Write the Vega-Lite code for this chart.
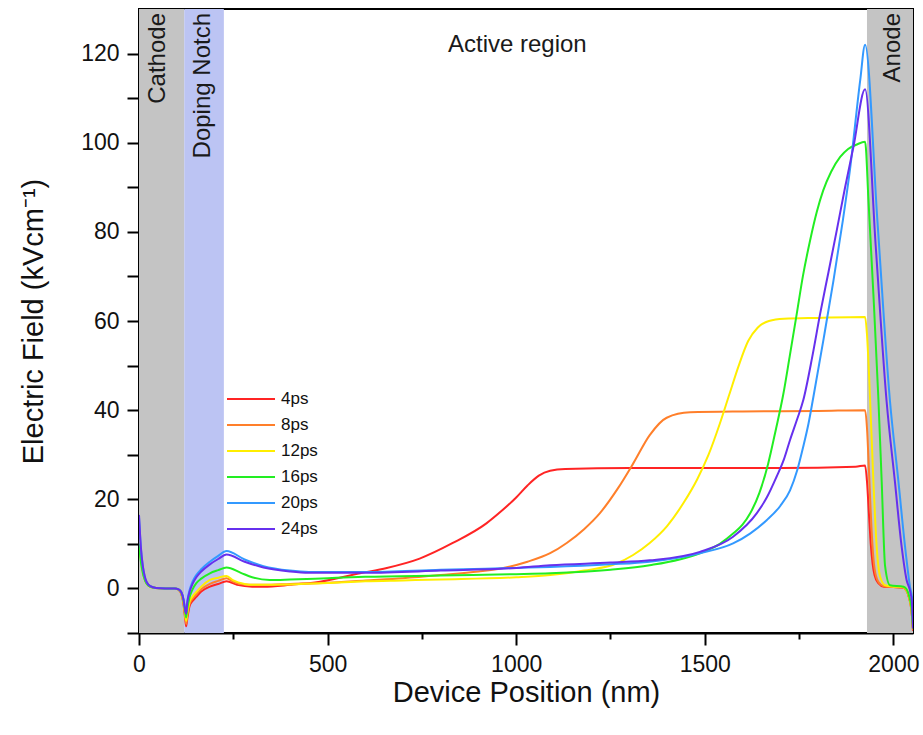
{
  "$schema": "https://vega.github.io/schema/vega-lite/v6.json",
  "width": 774,
  "height": 624,
  "autosize": {"type": "none"},
  "padding": {"left": 139, "top": 9, "right": 10, "bottom": 102},
  "background": "white",
  "config": {
    "font": "Liberation Sans",
    "view": {"stroke": "black", "strokeWidth": 2},
    "axis": {
      "domainColor": "black",
      "domainWidth": 2,
      "tickColor": "black",
      "tickWidth": 2,
      "labelColor": "#111",
      "titleColor": "#111",
      "labelFontSize": 23,
      "titleFontSize": 29,
      "titleFontWeight": "normal",
      "grid": false,
      "labelOverlap": false,
      "labelFlush": false
    }
  },
  "resolve": {"axis": {"x": "independent"}},
  "datasets": {
    "regions": [
      {"region": "Cathode", "start": 0, "end": 120, "fill": "#c4c4c4"},
      {"region": "Doping Notch", "start": 120, "end": 225, "fill": "#bcc4f3"},
      {"region": "Anode", "start": 1930, "end": 2052, "fill": "#c4c4c4"}
    ],
    "sideLabels": [
      {"text": "Cathode", "x": 50, "y": 130},
      {"text": "Doping Notch", "x": 170, "y": 130},
      {"text": "Anode", "x": 2000, "y": 130}
    ],
    "topLabels": [
      {"text": "Active region", "x": 1003, "y": 122}
    ],
    "minorTicks": [
      {"x": 250}, {"x": 750}, {"x": 1250}, {"x": 1750}
    ],
    "field": [
      {"t": "4ps", "x": 0, "y": 12}, {"t": "4ps", "x": 5, "y": 7}, {"t": "4ps", "x": 10, "y": 4}, {"t": "4ps", "x": 15, "y": 2.2}, {"t": "4ps", "x": 20, "y": 1.2}, {"t": "4ps", "x": 30, "y": 0.4}, {"t": "4ps", "x": 45, "y": 0.1}, {"t": "4ps", "x": 70, "y": 0}, {"t": "4ps", "x": 95, "y": 0}, {"t": "4ps", "x": 105, "y": -0.3}, {"t": "4ps", "x": 112, "y": -1.2}, {"t": "4ps", "x": 118, "y": -3.5}, {"t": "4ps", "x": 122, "y": -6.5}, {"t": "4ps", "x": 125, "y": -8.5},
      {"t": "4ps", "x": 128, "y": -6.8}, {"t": "4ps", "x": 134, "y": -4}, {"t": "4ps", "x": 142, "y": -2.8}, {"t": "4ps", "x": 152, "y": -1.9}, {"t": "4ps", "x": 165, "y": -0.7}, {"t": "4ps", "x": 188, "y": 0.4}, {"t": "4ps", "x": 210, "y": 1.0}, {"t": "4ps", "x": 232, "y": 1.6},
      {"t": "4ps", "x": 260, "y": 0.8}, {"t": "4ps", "x": 300, "y": 0.4}, {"t": "4ps", "x": 330, "y": 0.4}, {"t": "4ps", "x": 400, "y": 0.8}, {"t": "4ps", "x": 480, "y": 1.5}, {"t": "4ps", "x": 586, "y": 3.4}, {"t": "4ps", "x": 657, "y": 4.6}, {"t": "4ps", "x": 744, "y": 6.7}, {"t": "4ps", "x": 832, "y": 10.2}, {"t": "4ps", "x": 921, "y": 14.6}, {"t": "4ps", "x": 960, "y": 17.3}, {"t": "4ps", "x": 1000, "y": 20.4}, {"t": "4ps", "x": 1030, "y": 23.1}, {"t": "4ps", "x": 1060, "y": 25.3}, {"t": "4ps", "x": 1090, "y": 26.4}, {"t": "4ps", "x": 1130, "y": 26.8}, {"t": "4ps", "x": 1300, "y": 27}, {"t": "4ps", "x": 1500, "y": 27}, {"t": "4ps", "x": 1700, "y": 27}, {"t": "4ps", "x": 1900, "y": 27.3}, {"t": "4ps", "x": 1925, "y": 27.6},
      {"t": "4ps", "x": 1930, "y": 24}, {"t": "4ps", "x": 1935, "y": 17}, {"t": "4ps", "x": 1940, "y": 10}, {"t": "4ps", "x": 1945, "y": 5.5}, {"t": "4ps", "x": 1950, "y": 3}, {"t": "4ps", "x": 1960, "y": 1.2}, {"t": "4ps", "x": 1975, "y": 0.4}, {"t": "4ps", "x": 2000, "y": 0.3}, {"t": "4ps", "x": 2025, "y": 0.2}, {"t": "4ps", "x": 2035, "y": -0.5}, {"t": "4ps", "x": 2042, "y": -2.2}, {"t": "4ps", "x": 2048, "y": -5}, {"t": "4ps", "x": 2052, "y": -9.5},

      {"t": "8ps", "x": 0, "y": 12.5}, {"t": "8ps", "x": 5, "y": 7.2}, {"t": "8ps", "x": 10, "y": 4.1}, {"t": "8ps", "x": 15, "y": 2.3}, {"t": "8ps", "x": 20, "y": 1.2}, {"t": "8ps", "x": 30, "y": 0.4}, {"t": "8ps", "x": 45, "y": 0.1}, {"t": "8ps", "x": 70, "y": 0}, {"t": "8ps", "x": 95, "y": 0}, {"t": "8ps", "x": 105, "y": -0.3}, {"t": "8ps", "x": 112, "y": -1.1}, {"t": "8ps", "x": 118, "y": -3.2}, {"t": "8ps", "x": 122, "y": -6}, {"t": "8ps", "x": 125, "y": -8},
      {"t": "8ps", "x": 128, "y": -6.2}, {"t": "8ps", "x": 134, "y": -3.5}, {"t": "8ps", "x": 142, "y": -2.3}, {"t": "8ps", "x": 152, "y": -1.3}, {"t": "8ps", "x": 165, "y": -0.2}, {"t": "8ps", "x": 188, "y": 1.0}, {"t": "8ps", "x": 210, "y": 1.7}, {"t": "8ps", "x": 232, "y": 2.3},
      {"t": "8ps", "x": 250, "y": 1.5}, {"t": "8ps", "x": 280, "y": 0.9}, {"t": "8ps", "x": 330, "y": 0.8}, {"t": "8ps", "x": 400, "y": 1.0}, {"t": "8ps", "x": 500, "y": 1.3}, {"t": "8ps", "x": 600, "y": 1.8}, {"t": "8ps", "x": 700, "y": 2.3}, {"t": "8ps", "x": 800, "y": 3.0}, {"t": "8ps", "x": 900, "y": 3.8}, {"t": "8ps", "x": 966, "y": 4.6}, {"t": "8ps", "x": 1030, "y": 6}, {"t": "8ps", "x": 1090, "y": 7.9}, {"t": "8ps", "x": 1134, "y": 10.2}, {"t": "8ps", "x": 1180, "y": 13.3}, {"t": "8ps", "x": 1222, "y": 16.9}, {"t": "8ps", "x": 1270, "y": 22.5}, {"t": "8ps", "x": 1310, "y": 28}, {"t": "8ps", "x": 1354, "y": 34.4}, {"t": "8ps", "x": 1399, "y": 38.3}, {"t": "8ps", "x": 1461, "y": 39.5}, {"t": "8ps", "x": 1600, "y": 39.7}, {"t": "8ps", "x": 1800, "y": 39.8}, {"t": "8ps", "x": 1925, "y": 40},
      {"t": "8ps", "x": 1930, "y": 36}, {"t": "8ps", "x": 1935, "y": 27}, {"t": "8ps", "x": 1940, "y": 17}, {"t": "8ps", "x": 1945, "y": 9}, {"t": "8ps", "x": 1950, "y": 4.5}, {"t": "8ps", "x": 1960, "y": 1.5}, {"t": "8ps", "x": 1975, "y": 0.5}, {"t": "8ps", "x": 2000, "y": 0.3}, {"t": "8ps", "x": 2025, "y": 0.2}, {"t": "8ps", "x": 2035, "y": -0.5}, {"t": "8ps", "x": 2042, "y": -2.2}, {"t": "8ps", "x": 2048, "y": -5}, {"t": "8ps", "x": 2052, "y": -9.3},

      {"t": "12ps", "x": 0, "y": 11}, {"t": "12ps", "x": 5, "y": 6.5}, {"t": "12ps", "x": 10, "y": 3.8}, {"t": "12ps", "x": 15, "y": 2.1}, {"t": "12ps", "x": 20, "y": 1.1}, {"t": "12ps", "x": 30, "y": 0.4}, {"t": "12ps", "x": 45, "y": 0.1}, {"t": "12ps", "x": 70, "y": 0}, {"t": "12ps", "x": 95, "y": 0}, {"t": "12ps", "x": 105, "y": -0.3}, {"t": "12ps", "x": 112, "y": -1}, {"t": "12ps", "x": 118, "y": -3}, {"t": "12ps", "x": 122, "y": -5.5}, {"t": "12ps", "x": 125, "y": -7.3},
      {"t": "12ps", "x": 128, "y": -5.5}, {"t": "12ps", "x": 134, "y": -3}, {"t": "12ps", "x": 142, "y": -1.8}, {"t": "12ps", "x": 152, "y": -0.8}, {"t": "12ps", "x": 165, "y": 0.4}, {"t": "12ps", "x": 188, "y": 1.9}, {"t": "12ps", "x": 210, "y": 2.4}, {"t": "12ps", "x": 232, "y": 2.8},
      {"t": "12ps", "x": 250, "y": 1.8}, {"t": "12ps", "x": 280, "y": 1.0}, {"t": "12ps", "x": 302, "y": 0.8}, {"t": "12ps", "x": 400, "y": 0.9}, {"t": "12ps", "x": 500, "y": 1.2}, {"t": "12ps", "x": 600, "y": 1.6}, {"t": "12ps", "x": 700, "y": 1.8}, {"t": "12ps", "x": 800, "y": 2.0}, {"t": "12ps", "x": 1000, "y": 2.5}, {"t": "12ps", "x": 1090, "y": 3}, {"t": "12ps", "x": 1180, "y": 4}, {"t": "12ps", "x": 1266, "y": 5.6}, {"t": "12ps", "x": 1310, "y": 7.5}, {"t": "12ps", "x": 1354, "y": 10.2}, {"t": "12ps", "x": 1400, "y": 14}, {"t": "12ps", "x": 1443, "y": 19.1}, {"t": "12ps", "x": 1480, "y": 24.5}, {"t": "12ps", "x": 1510, "y": 30}, {"t": "12ps", "x": 1540, "y": 37}, {"t": "12ps", "x": 1565, "y": 43.5}, {"t": "12ps", "x": 1590, "y": 50}, {"t": "12ps", "x": 1615, "y": 55.5}, {"t": "12ps", "x": 1640, "y": 58.5}, {"t": "12ps", "x": 1670, "y": 60}, {"t": "12ps", "x": 1710, "y": 60.5}, {"t": "12ps", "x": 1800, "y": 60.7}, {"t": "12ps", "x": 1925, "y": 60.9},
      {"t": "12ps", "x": 1930, "y": 57}, {"t": "12ps", "x": 1936, "y": 47}, {"t": "12ps", "x": 1947, "y": 24}, {"t": "12ps", "x": 1956, "y": 9}, {"t": "12ps", "x": 1965, "y": 2.6}, {"t": "12ps", "x": 1978, "y": 0.7}, {"t": "12ps", "x": 2000, "y": 0.4}, {"t": "12ps", "x": 2025, "y": 0.3}, {"t": "12ps", "x": 2035, "y": -0.4}, {"t": "12ps", "x": 2042, "y": -2}, {"t": "12ps", "x": 2048, "y": -4.8}, {"t": "12ps", "x": 2052, "y": -9},

      {"t": "16ps", "x": 0, "y": 10}, {"t": "16ps", "x": 5, "y": 6}, {"t": "16ps", "x": 10, "y": 3.5}, {"t": "16ps", "x": 15, "y": 2}, {"t": "16ps", "x": 20, "y": 1.1}, {"t": "16ps", "x": 30, "y": 0.4}, {"t": "16ps", "x": 45, "y": 0.1}, {"t": "16ps", "x": 70, "y": 0}, {"t": "16ps", "x": 95, "y": 0}, {"t": "16ps", "x": 105, "y": -0.2}, {"t": "16ps", "x": 112, "y": -0.9}, {"t": "16ps", "x": 118, "y": -2.7}, {"t": "16ps", "x": 122, "y": -5}, {"t": "16ps", "x": 125, "y": -6.5},
      {"t": "16ps", "x": 128, "y": -4.5}, {"t": "16ps", "x": 134, "y": -2}, {"t": "16ps", "x": 142, "y": -0.2}, {"t": "16ps", "x": 152, "y": 1.2}, {"t": "16ps", "x": 165, "y": 2.2}, {"t": "16ps", "x": 188, "y": 3.4}, {"t": "16ps", "x": 210, "y": 4.1}, {"t": "16ps", "x": 232, "y": 4.7},
      {"t": "16ps", "x": 270, "y": 3.5}, {"t": "16ps", "x": 300, "y": 2.5}, {"t": "16ps", "x": 347, "y": 1.9}, {"t": "16ps", "x": 400, "y": 2.0}, {"t": "16ps", "x": 500, "y": 2.3}, {"t": "16ps", "x": 600, "y": 2.6}, {"t": "16ps", "x": 800, "y": 2.9}, {"t": "16ps", "x": 1000, "y": 3.2}, {"t": "16ps", "x": 1090, "y": 3.4}, {"t": "16ps", "x": 1250, "y": 4.2}, {"t": "16ps", "x": 1354, "y": 5.2}, {"t": "16ps", "x": 1487, "y": 7.9}, {"t": "16ps", "x": 1540, "y": 10}, {"t": "16ps", "x": 1575, "y": 12.3}, {"t": "16ps", "x": 1600, "y": 14.3}, {"t": "16ps", "x": 1620, "y": 16.8}, {"t": "16ps", "x": 1645, "y": 21.5}, {"t": "16ps", "x": 1668, "y": 28}, {"t": "16ps", "x": 1688, "y": 35.5}, {"t": "16ps", "x": 1708, "y": 43.5}, {"t": "16ps", "x": 1725, "y": 52}, {"t": "16ps", "x": 1744, "y": 61.7}, {"t": "16ps", "x": 1760, "y": 70}, {"t": "16ps", "x": 1779, "y": 78}, {"t": "16ps", "x": 1797, "y": 84.5}, {"t": "16ps", "x": 1814, "y": 89.3}, {"t": "16ps", "x": 1835, "y": 93.5}, {"t": "16ps", "x": 1859, "y": 96.8}, {"t": "16ps", "x": 1880, "y": 98.6}, {"t": "16ps", "x": 1903, "y": 99.6}, {"t": "16ps", "x": 1925, "y": 100.2},
      {"t": "16ps", "x": 1934, "y": 87}, {"t": "16ps", "x": 1947, "y": 66}, {"t": "16ps", "x": 1960, "y": 43}, {"t": "16ps", "x": 1969, "y": 24}, {"t": "16ps", "x": 1978, "y": 5}, {"t": "16ps", "x": 1991, "y": 0.7}, {"t": "16ps", "x": 2027, "y": 0.4}, {"t": "16ps", "x": 2035, "y": -0.2}, {"t": "16ps", "x": 2042, "y": -1.8}, {"t": "16ps", "x": 2048, "y": -4.5}, {"t": "16ps", "x": 2052, "y": -9},

      {"t": "20ps", "x": 0, "y": 16}, {"t": "20ps", "x": 5, "y": 9}, {"t": "20ps", "x": 10, "y": 5}, {"t": "20ps", "x": 15, "y": 2.7}, {"t": "20ps", "x": 20, "y": 1.4}, {"t": "20ps", "x": 30, "y": 0.5}, {"t": "20ps", "x": 45, "y": 0.1}, {"t": "20ps", "x": 70, "y": 0}, {"t": "20ps", "x": 95, "y": 0}, {"t": "20ps", "x": 105, "y": -0.2}, {"t": "20ps", "x": 112, "y": -0.8}, {"t": "20ps", "x": 118, "y": -2.4}, {"t": "20ps", "x": 122, "y": -4.5}, {"t": "20ps", "x": 125, "y": -5.5},
      {"t": "20ps", "x": 128, "y": -3}, {"t": "20ps", "x": 134, "y": -0.4}, {"t": "20ps", "x": 142, "y": 1.5}, {"t": "20ps", "x": 152, "y": 3}, {"t": "20ps", "x": 165, "y": 4.3}, {"t": "20ps", "x": 188, "y": 6}, {"t": "20ps", "x": 210, "y": 7.3}, {"t": "20ps", "x": 232, "y": 8.4},
      {"t": "20ps", "x": 280, "y": 6.5}, {"t": "20ps", "x": 330, "y": 5}, {"t": "20ps", "x": 400, "y": 4}, {"t": "20ps", "x": 450, "y": 3.7}, {"t": "20ps", "x": 600, "y": 3.7}, {"t": "20ps", "x": 800, "y": 4.2}, {"t": "20ps", "x": 1000, "y": 4.6}, {"t": "20ps", "x": 1090, "y": 4.8}, {"t": "20ps", "x": 1250, "y": 5.4}, {"t": "20ps", "x": 1354, "y": 6}, {"t": "20ps", "x": 1487, "y": 7.9}, {"t": "20ps", "x": 1575, "y": 10.1}, {"t": "20ps", "x": 1620, "y": 12.3}, {"t": "20ps", "x": 1664, "y": 15.3}, {"t": "20ps", "x": 1700, "y": 18.5}, {"t": "20ps", "x": 1726, "y": 22}, {"t": "20ps", "x": 1745, "y": 26.5}, {"t": "20ps", "x": 1761, "y": 31.8}, {"t": "20ps", "x": 1775, "y": 37}, {"t": "20ps", "x": 1788, "y": 43}, {"t": "20ps", "x": 1815, "y": 56}, {"t": "20ps", "x": 1841, "y": 69}, {"t": "20ps", "x": 1865, "y": 82}, {"t": "20ps", "x": 1885, "y": 94}, {"t": "20ps", "x": 1912, "y": 114}, {"t": "20ps", "x": 1925, "y": 122},
      {"t": "20ps", "x": 1958, "y": 82}, {"t": "20ps", "x": 1991, "y": 42}, {"t": "20ps", "x": 2013, "y": 24.3}, {"t": "20ps", "x": 2031, "y": 9.3}, {"t": "20ps", "x": 2044, "y": 0.4}, {"t": "20ps", "x": 2050, "y": -2.5}, {"t": "20ps", "x": 2052, "y": -8},

      {"t": "24ps", "x": 0, "y": 16.5}, {"t": "24ps", "x": 5, "y": 9.2}, {"t": "24ps", "x": 10, "y": 5.1}, {"t": "24ps", "x": 15, "y": 2.8}, {"t": "24ps", "x": 20, "y": 1.5}, {"t": "24ps", "x": 30, "y": 0.5}, {"t": "24ps", "x": 45, "y": 0.1}, {"t": "24ps", "x": 70, "y": 0}, {"t": "24ps", "x": 95, "y": 0}, {"t": "24ps", "x": 105, "y": -0.2}, {"t": "24ps", "x": 112, "y": -0.8}, {"t": "24ps", "x": 118, "y": -2.5}, {"t": "24ps", "x": 122, "y": -4.6}, {"t": "24ps", "x": 125, "y": -5.7},
      {"t": "24ps", "x": 128, "y": -3.2}, {"t": "24ps", "x": 134, "y": -0.8}, {"t": "24ps", "x": 142, "y": 1.0}, {"t": "24ps", "x": 152, "y": 2.5}, {"t": "24ps", "x": 165, "y": 3.8}, {"t": "24ps", "x": 188, "y": 5.4}, {"t": "24ps", "x": 210, "y": 6.6}, {"t": "24ps", "x": 232, "y": 7.6},
      {"t": "24ps", "x": 280, "y": 6}, {"t": "24ps", "x": 330, "y": 4.7}, {"t": "24ps", "x": 400, "y": 3.8}, {"t": "24ps", "x": 450, "y": 3.5}, {"t": "24ps", "x": 600, "y": 3.5}, {"t": "24ps", "x": 800, "y": 4.0}, {"t": "24ps", "x": 1000, "y": 4.6}, {"t": "24ps", "x": 1090, "y": 5.2}, {"t": "24ps", "x": 1250, "y": 5.8}, {"t": "24ps", "x": 1354, "y": 6.3}, {"t": "24ps", "x": 1487, "y": 8.2}, {"t": "24ps", "x": 1575, "y": 11.6}, {"t": "24ps", "x": 1638, "y": 16.9}, {"t": "24ps", "x": 1665, "y": 20.5}, {"t": "24ps", "x": 1690, "y": 25}, {"t": "24ps", "x": 1710, "y": 29}, {"t": "24ps", "x": 1726, "y": 33.3}, {"t": "24ps", "x": 1745, "y": 38}, {"t": "24ps", "x": 1761, "y": 42.2}, {"t": "24ps", "x": 1785, "y": 52}, {"t": "24ps", "x": 1806, "y": 61.7}, {"t": "24ps", "x": 1828, "y": 71}, {"t": "24ps", "x": 1850, "y": 80.4}, {"t": "24ps", "x": 1872, "y": 90}, {"t": "24ps", "x": 1894, "y": 99}, {"t": "24ps", "x": 1925, "y": 112},
      {"t": "24ps", "x": 1953, "y": 77}, {"t": "24ps", "x": 1982, "y": 42}, {"t": "24ps", "x": 2004, "y": 24}, {"t": "24ps", "x": 2022, "y": 9.3}, {"t": "24ps", "x": 2035, "y": 1.9}, {"t": "24ps", "x": 2044, "y": -0.5}, {"t": "24ps", "x": 2049, "y": -3}, {"t": "24ps", "x": 2052, "y": -9}
    ]
  },
  "layer": [
    {
      "data": {"name": "regions"},
      "mark": {"type": "rect"},
      "encoding": {
        "x": {"field": "start", "type": "quantitative", "axis": null, "scale": {"domain": [0, 2052], "nice": false, "zero": false}},
        "x2": {"field": "end"},
        "y": {"datum": -10, "type": "quantitative", "title": "Electric Field (kVcm⁻¹)", "scale": {"domain": [-10, 130], "nice": false, "zero": false}},
        "y2": {"datum": 130},
        "fill": {"field": "fill", "type": "nominal", "scale": null}
      }
    },
    {
      "data": {"name": "sideLabels"},
      "mark": {"type": "text", "angle": 270, "align": "right", "baseline": "middle", "dx": -4, "fontSize": 24, "color": "#1a1a1a"},
      "encoding": {
        "x": {"field": "x", "type": "quantitative", "axis": null},
        "y": {"field": "y", "type": "quantitative", "title": "Electric Field (kVcm⁻¹)"},
        "text": {"field": "text"}
      }
    },
    {
      "data": {"name": "topLabels"},
      "mark": {"type": "text", "align": "center", "baseline": "middle", "fontSize": 24, "color": "#1a1a1a"},
      "encoding": {
        "x": {"field": "x", "type": "quantitative", "axis": null},
        "y": {"field": "y", "type": "quantitative", "title": "Electric Field (kVcm⁻¹)"},
        "text": {"field": "text"}
      }
    },
    {
      "data": {"name": "minorTicks"},
      "mark": {"type": "text", "text": ""},
      "encoding": {
        "x": {
          "field": "x", "type": "quantitative",
          "axis": {"orient": "bottom", "values": [250, 750, 1250, 1750], "labels": false, "domain": false, "tickSize": 6, "title": null}
        },
        "y": {"datum": 0, "type": "quantitative", "title": "Electric Field (kVcm⁻¹)"}
      }
    },
    {
      "data": {"name": "field"},
      "mark": {"type": "line", "strokeWidth": 2, "clip": true, "interpolate": "monotone"},
      "encoding": {
        "x": {
          "field": "x", "type": "quantitative", "title": "Device Position (nm)",
          "axis": {
            "orient": "bottom",
            "values": [0, 500, 1000, 1500, 2000],
            "format": "d",
            "tickSize": 12,
            "labelPadding": 8,
            "titlePadding": 2
          }
        },
        "y": {
          "field": "y", "type": "quantitative", "title": "Electric Field (kVcm⁻¹)",
          "axis": {
            "values": [-10, 0, 10, 20, 30, 40, 50, 60, 70, 80, 90, 100, 110, 120],
            "format": "d",
            "labelExpr": "datum.value % 20 === 0 ? datum.label : ''",
            "tickSize": 12,
            "labelPadding": 8,
            "titlePadding": 32,
            "encode": {"ticks": {"update": {"x2": {"signal": "datum.value % 20 === 0 ? -12 : -6"}}}}
          }
        },
        "color": {
          "field": "t", "type": "nominal",
          "scale": {
            "domain": ["4ps", "8ps", "12ps", "16ps", "20ps", "24ps"],
            "range": ["#ff2424", "#ff7f2a", "#ffee00", "#22ee22", "#3399ff", "#6630ee"]
          },
          "legend": {
            "orient": "none",
            "legendX": 111,
            "legendY": 377,
            "title": null,
            "symbolType": "M-3,0H1",
            "symbolSize": 576,
            "symbolStrokeWidth": 2,
            "labelFontSize": 17,
            "labelColor": "#111",
            "labelOffset": 5,
            "rowPadding": 5
          }
        }
      }
    }
  ]
}
